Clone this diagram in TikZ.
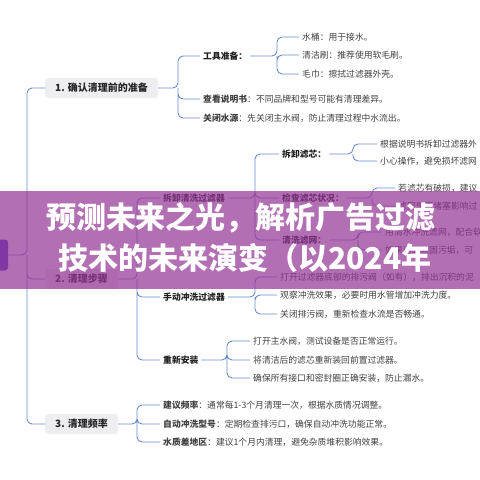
\documentclass[tikz,border=0pt]{standalone}
\usepackage{fontspec}
\setmainfont{Noto Sans CJK SC}
\definecolor{lnblue}{RGB}{106,138,206}
\definecolor{boxgray}{RGB}{238,238,240}
\definecolor{bandc}{RGB}{150,55,150}
\definecolor{rootc}{RGB}{70,55,200}

\begin{document}
\begin{tikzpicture}[x=1pt,y=-1pt,
  br/.style={draw=lnblue,line width=0.9pt,rounded corners=5pt},
  topic/.style={fill=boxgray,rounded corners=3pt,anchor=west,minimum height=20pt,inner xsep=10pt,font=\fontsize{10}{12}\selectfont\bfseries,text=black!85},
  leaf/.style={anchor=west,inner xsep=3pt,inner ysep=1pt,font=\fontsize{8.8}{10}\selectfont,text=black!75},
  leafb/.style={leaf,font=\fontsize{8.8}{10}\selectfont\bfseries,text=black!88}]
\useasboundingbox (0,0) rectangle (480,480);
% root and trunk
\node[fill=rootc,rounded corners=3pt,minimum width=40pt,minimum height=31pt] (root) at (-12,255) {};
\coordinate (tr) at (27,255);
\node[topic] (n1) at (45,88) {1. 确认清理前的准备};
\node[topic] (n2) at (45,279) {2. 清理步骤};
\node[topic] (n3) at (45,424) {3. 清理频率};
\draw[br] (root.east) -- (tr) |- (n1.west) (tr) |- (n2.west) (tr) |- (n3.west);
% 1
\coordinate (b1) at (178,88);
\node[leafb] (c11) at (200,56) {工具准备：};
\node[leaf] (c12) at (200,99) {\textbf{查看说明书}：不同品牌和型号可能有清理差异。};
\node[leaf] (c13) at (200,118) {\textbf{关闭水源}：先关闭主水阀，防止清理过程中水流出。};
\draw[br] (n1.east) -- (b1) |- (c11.west) (b1) |- (c12.west) (b1) |- (c13.west);
\coordinate (b11) at (277,56);
\node[leaf] (g1) at (299,37) {水桶：用于接水。};
\node[leaf] (g2) at (299,55) {清洁刷：推荐使用软毛刷。};
\node[leaf] (g3) at (299,74) {毛巾：擦拭过滤器外壳。};
\draw[br] (c11.east) -- (b11) |- (g1.west) (b11) |- (g2.west) (b11) |- (g3.west);
% 2
\coordinate (b2) at (137,279);
\node[leafb] (c21) at (160,198) {拆卸清洗过滤器};
\node[leafb] (c22) at (160,297) {手动冲洗过滤器};
\node[leafb] (c23) at (160,360) {重新安装};
\draw[br] (n2.east) -- (b2) |- (c21.west) (b2) |- (c22.west) (b2) |- (c23.west);
\coordinate (b21) at (255,198);
\node[leafb] (d1) at (279,154) {拆卸滤芯：};
\node[leafb] (d2) at (279,198) {检查滤芯状况：};
\node[leafb] (d3) at (279,240) {清洗滤网：};
\draw[br] (c21.east) -- (b21) |- (d1.west) (b21) |- (d2.west) (b21) |- (d3.west);
\coordinate (b211) at (353,154);
\node[leaf] (h1) at (377,144) {根据说明书拆卸过滤器外};
\node[leaf] (h2) at (377,161) {小心操作，避免损坏滤网};
\draw[br] (d1.east) -- (b211) |- (h1.west) (b211) |- (h2.west);
\coordinate (b212) at (372,198);
\node[leaf] (h3) at (395,188) {若滤芯有破损，建议};
\node[leaf] (h4) at (395,206) {滤网是否堵塞影响过};
\draw[br] (d2.east) -- (b212) |- (h3.west) (b212) |- (h4.west);
\coordinate (b213) at (358,240);
\node[leaf] (h5) at (382,232) {用清水冲洗滤网，配合软};
\node[leaf] (h6) at (382,250) {如果遇到顽固污垢，可};
\draw[br] (d3.east) -- (b213) |- (h5.west) (b213) |- (h6.west);
\coordinate (b22) at (255,297);
\node[leaf] (e1) at (277,277) {打开过滤器底部的排污阀（如有），排出沉积的泥};
\node[leaf] (e2) at (277,295) {观察冲洗效果，必要时用水管增加冲洗力度。};
\node[leaf] (e3) at (277,314) {关闭排污阀，重新检查水流是否畅通。};
\draw[br] (c22.east) -- (b22) |- (e1.west) (b22) |- (e2.west) (b22) |- (e3.west);
\coordinate (b23) at (227,360);
\node[leaf] (f1) at (250,341) {打开主水阀，测试设备是否正常运行。};
\node[leaf] (f2) at (250,360) {将清洁后的滤芯重新装回前置过滤器。};
\node[leaf] (f3) at (250,378) {确保所有接口和密封圈正确安装，防止漏水。};
\draw[br] (c23.east) -- (b23) |- (f1.west) (b23) |- (f2.west) (b23) |- (f3.west);
% 3
\coordinate (b3) at (137,424);
\node[leaf] (c31) at (160,405) {\textbf{建议频率}：通常每1-3个月清理一次，根据水质情况调整。};
\node[leaf] (c32) at (160,424) {\textbf{自动冲洗型号}：定期检查排污口，确保自动冲洗功能正常。};
\node[leaf] (c33) at (160,442) {\textbf{水质差地区}：建议1个月内清理，避免杂质堆积影响效果。};
\draw[br] (n3.east) -- (b3) |- (c31.west) (b3) |- (c32.west) (b3) |- (c33.west);
% overlay title
\fill[bandc,opacity=0.72] (0,191) rectangle (480,289);
\node[font=\fontsize{30}{32}\selectfont\bfseries,text=white] (ttl1) at (241,218) {预测未来之光，解析广告过滤};
\node[font=\fontsize{30}{32}\selectfont\bfseries,text=white] (ttl2) at (245,258) {技术的未来演变（以2024年};
\end{tikzpicture}
\end{document}
